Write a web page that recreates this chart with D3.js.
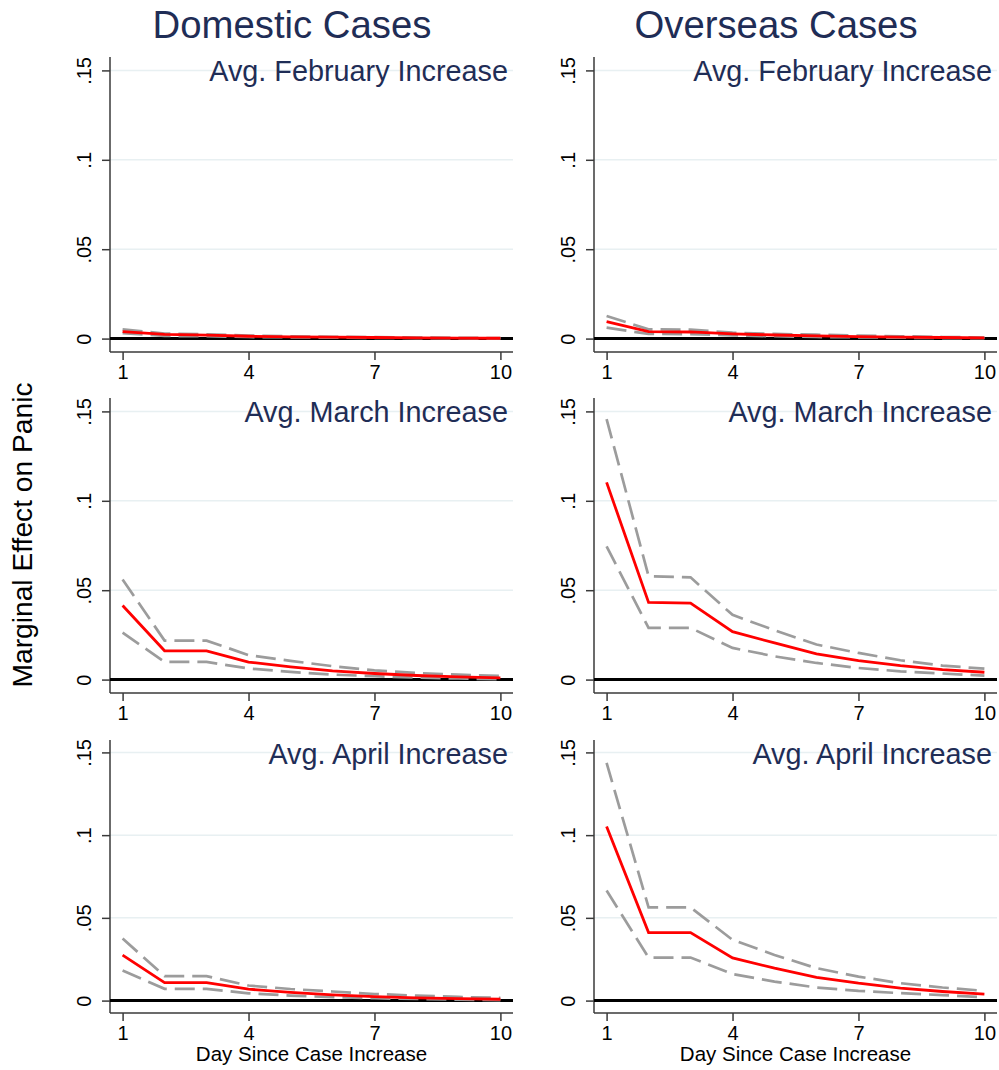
<!DOCTYPE html>
<html>
<head>
<meta charset="utf-8">
<script src="https://cdn.jsdelivr.net/npm/d3@7"></script>
<style>
  html, body { margin: 0; padding: 0; background: #fff; }
  svg { display: block; font-family: Arial, "Liberation Sans", Helvetica, sans-serif; }
</style>
</head>
<body>
<svg id="chart" width="999" height="1070"></svg>
<script>
// ---- Data ----
const days = [1, 2, 3, 4, 5, 6, 7, 8, 9, 10];
const xTicks = [1, 4, 7, 10];
const yTicks = [0, 0.05, 0.1, 0.15];
const yTickLabels = ["0", ".05", ".1", ".15"];
const columnTitles = ["Domestic Cases", "Overseas Cases"];
const rowTitles = ["Avg. February Increase", "Avg. March Increase", "Avg. April Increase"];
const yAxisTitle = "Marginal Effect on Panic";
const xAxisTitle = "Day Since Case Increase";

// Domestic, February
const domFebEst = [0.0039, 0.0024, 0.0019, 0.0013, 0.0010, 0.0008, 0.0006, 0.0004, 0.0003, 0.0002];
const domFebHi  = [0.0052, 0.0028, 0.0024, 0.0017, 0.0013, 0.0010, 0.0008, 0.0006, 0.0004, 0.0003];
const domFebLo  = [0.0030, 0.0015, 0.0013, 0.0009, 0.0007, 0.0005, 0.0004, 0.0003, 0.0002, 0.0001];
// Overseas, February
const ovsFebEst = [0.0095, 0.0039, 0.0037, 0.0026, 0.0020, 0.0015, 0.0011, 0.0008, 0.0006, 0.0004];
const ovsFebHi  = [0.0126, 0.0052, 0.0050, 0.0033, 0.0026, 0.0022, 0.0017, 0.0013, 0.0009, 0.0006];
const ovsFebLo  = [0.0061, 0.0026, 0.0025, 0.0018, 0.0013, 0.0009, 0.0007, 0.0005, 0.0003, 0.0002];
// Domestic, March
const domMarEst = [0.0414, 0.0161, 0.0161, 0.0098, 0.0071, 0.0049, 0.0034, 0.0023, 0.0015, 0.0010];
const domMarHi  = [0.0560, 0.0218, 0.0218, 0.0137, 0.0105, 0.0075, 0.0052, 0.0037, 0.0028, 0.0020];
const domMarLo  = [0.0263, 0.0099, 0.0099, 0.0062, 0.0043, 0.0028, 0.0019, 0.0011, 0.0006, 0.0002];
// Overseas, March
const ovsMarEst = [0.1103, 0.0432, 0.0428, 0.0268, 0.0205, 0.0144, 0.0106, 0.0078, 0.0056, 0.0041];
const ovsMarHi  = [0.1457, 0.0578, 0.0572, 0.0362, 0.0276, 0.0196, 0.0149, 0.0108, 0.0078, 0.0061];
const ovsMarLo  = [0.0745, 0.0289, 0.0289, 0.0177, 0.0130, 0.0093, 0.0065, 0.0046, 0.0034, 0.0022];
// Domestic, April
const domAprEst = [0.0275, 0.0109, 0.0109, 0.0069, 0.0050, 0.0035, 0.0024, 0.0016, 0.0012, 0.0008];
const domAprHi  = [0.0375, 0.0148, 0.0148, 0.0091, 0.0070, 0.0055, 0.0040, 0.0030, 0.0022, 0.0016];
const domAprLo  = [0.0182, 0.0071, 0.0071, 0.0044, 0.0030, 0.0021, 0.0014, 0.0010, 0.0006, 0.0002];
// Overseas, April
const ovsAprEst = [0.1052, 0.0411, 0.0411, 0.0258, 0.0196, 0.0141, 0.0105, 0.0075, 0.0055, 0.0039];
const ovsAprHi  = [0.1436, 0.0563, 0.0563, 0.0367, 0.0276, 0.0196, 0.0145, 0.0105, 0.0079, 0.0059];
const ovsAprLo  = [0.0665, 0.0260, 0.0260, 0.0160, 0.0115, 0.0079, 0.0059, 0.0045, 0.0033, 0.0020];

const panelData = [
  [ {est: domFebEst, hi: domFebHi, lo: domFebLo}, {est: ovsFebEst, hi: ovsFebHi, lo: ovsFebLo} ],
  [ {est: domMarEst, hi: domMarHi, lo: domMarLo}, {est: ovsMarEst, hi: ovsMarHi, lo: ovsMarLo} ],
  [ {est: domAprEst, hi: domAprHi, lo: domAprLo}, {est: ovsAprEst, hi: ovsAprHi, lo: ovsAprLo} ]
];

// ---- Layout ----
const colX = [[110, 513], [594, 997]];
const rowY = [[57, 352], [398, 693], [740, 1013]];
const titleColor = "#1f2d56";

const svg = d3.select("#chart");

// Column titles
const colCenters = [292, 776];
columnTitles.forEach((t, i) => {
  svg.append("text")
    .attr("x", colCenters[i]).attr("y", 38)
    .attr("text-anchor", "middle")
    .attr("font-size", 38.3)
    .attr("fill", titleColor)
    .text(t);
});

// Y axis title
svg.append("text")
  .attr("transform", "translate(32,535) rotate(-90)")
  .attr("text-anchor", "middle")
  .attr("font-size", 28.2)
  .attr("fill", "#000")
  .text(yAxisTitle);

panelData.forEach((row, r) => {
  row.forEach((pd, c) => {
    const [x0, x1] = colX[c];
    const [yTop, yBot] = rowY[r];
    const x = d3.scaleLinear().domain([0.7, 10.3]).range([x0, x1]);
    const y = d3.scaleLinear().domain([-0.0075, 0.1575]).range([yBot, yTop]);
    const g = svg.append("g");

    // Gridlines
    g.selectAll(".grid").data(yTicks.filter(v => v > 0)).enter()
      .append("line")
      .attr("x1", x0).attr("x2", x1)
      .attr("y1", d => y(d)).attr("y2", d => y(d))
      .attr("stroke", "#e8f0f2").attr("stroke-width", 1.5);

    // Y axis
    const yAxis = d3.axisLeft(y).tickValues(yTicks).tickSize(8)
      .tickFormat((d, i) => yTickLabels[i]);
    const ya = g.append("g").attr("transform", `translate(${x0},0)`).call(yAxis);
    ya.select(".domain").attr("d", `M-0,${yTop}V${yBot}`).attr("stroke", "#3a3a3a").attr("stroke-width", 1.5);
    ya.selectAll(".tick line").attr("stroke", "#3a3a3a").attr("stroke-width", 1.5);
    ya.selectAll(".tick text")
      .attr("font-size", 20).attr("fill", "#000")
      .attr("font-family", "Arial, 'Liberation Sans', sans-serif")
      .attr("x", null).attr("dy", null)
      .attr("transform", "translate(-19,0) rotate(-90)")
      .attr("text-anchor", "middle");

    // X axis
    const xAxis = d3.axisBottom(x).tickValues(xTicks).tickSize(8).tickFormat(d3.format("d"));
    const xa = g.append("g").attr("transform", `translate(0,${yBot})`).call(xAxis);
    xa.select(".domain").attr("d", `M${x0},0H${x1}`).attr("stroke", "#3a3a3a").attr("stroke-width", 1.5);
    xa.selectAll(".tick line").attr("stroke", "#3a3a3a").attr("stroke-width", 1.5);
    xa.selectAll(".tick text")
      .attr("font-size", 20).attr("fill", "#000")
      .attr("font-family", "Arial, 'Liberation Sans', sans-serif")
      .attr("y", 27).attr("dy", null);

    // Zero line
    g.append("line")
      .attr("x1", x0).attr("x2", x1)
      .attr("y1", y(0)).attr("y2", y(0))
      .attr("stroke", "#000").attr("stroke-width", 3);

    const line = d3.line().x((d, i) => x(days[i])).y(d => y(d));

    [pd.hi, pd.lo].forEach(arr => {
      g.append("path").datum(arr)
        .attr("d", line)
        .attr("fill", "none")
        .attr("stroke", "#9c9c9c")
        .attr("stroke-width", 2.7)
        .attr("stroke-dasharray", "20,8");
    });
    g.append("path").datum(pd.est)
      .attr("d", line)
      .attr("fill", "none")
      .attr("stroke", "#ff0000")
      .attr("stroke-width", 2.8);

    // Panel subtitle
    g.append("text")
      .attr("x", x1 - 5).attr("y", yTop + 24)
      .attr("text-anchor", "end")
      .attr("font-size", 28.8)
      .attr("fill", titleColor)
      .text(rowTitles[r]);

    // X axis title on bottom row
    if (r === 2) {
      g.append("text")
        .attr("x", (x0 + x1) / 2).attr("y", 1061)
        .attr("text-anchor", "middle")
        .attr("font-size", 20.5)
        .attr("fill", "#000")
        .text(xAxisTitle);
    }
  });
});
</script>
</body>
</html>
